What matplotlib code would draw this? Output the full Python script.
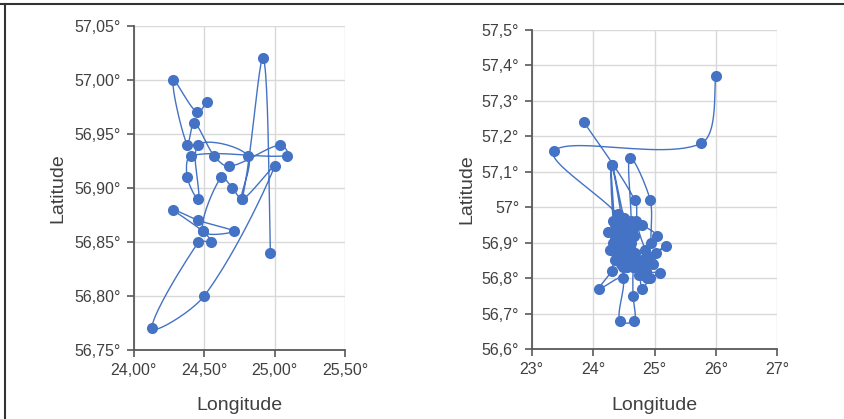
import matplotlib
matplotlib.use("Agg")
import matplotlib.pyplot as plt
import numpy as np
from matplotlib.lines import Line2D
from matplotlib.ticker import FuncFormatter

# route 1: visited points in order (longitude, latitude)
route1_lon = [24.52, 24.45, 24.28, 24.38, 24.43, 24.57, 24.68, 25.04, 25.09, 24.41,
              24.38, 24.46, 24.46, 24.81, 24.77, 25.00, 24.50, 24.13, 24.46, 24.55,
              24.49, 24.28, 24.46, 24.71, 24.49, 24.62, 24.70, 24.77, 24.92, 24.97]
route1_lat = [56.98, 56.97, 57.00, 56.94, 56.96, 56.93, 56.92, 56.94, 56.93, 56.93,
              56.91, 56.89, 56.94, 56.93, 56.89, 56.92, 56.80, 56.77, 56.85, 56.85,
              56.86, 56.88, 56.87, 56.86, 56.86, 56.91, 56.90, 56.89, 57.02, 56.84]

# route 2
route2_lon = [26.00, 25.76, 23.37, 24.40, 24.48, 24.30, 24.33, 24.42, 24.25, 24.35,
              24.30, 24.50, 24.56, 24.45, 24.28, 24.38, 24.50, 24.60, 24.62, 24.60,
              24.93, 24.95, 25.04, 24.80, 24.70, 24.66, 24.55, 24.45, 24.40, 24.52,
              24.35, 24.45, 24.55, 24.65, 24.58, 24.48, 24.38, 24.32, 24.42, 24.52,
              24.62, 24.40, 24.48, 24.58, 24.68, 24.75, 24.82, 24.88, 24.72, 24.62,
              24.68, 24.80, 25.02, 25.19, 24.92, 24.86, 25.09, 24.93, 24.80, 24.75,
              24.65, 24.55, 24.45, 24.35, 24.30, 24.10, 24.48, 24.43, 24.67, 24.65,
              24.66, 24.72, 24.88, 24.97, 24.85, 24.72, 24.68, 23.85]
route2_lat = [57.37, 57.18, 57.16, 56.98, 56.95, 57.12, 56.96, 56.93, 56.93, 56.91,
              57.12, 56.97, 56.93, 56.90, 56.88, 56.87, 56.88, 56.90, 56.96, 57.14,
              57.02, 56.90, 56.92, 56.95, 56.96, 56.92, 56.86, 56.85, 56.89, 56.91,
              56.95, 56.96, 56.95, 56.94, 56.92, 56.92, 56.93, 56.90, 56.88, 56.86,
              56.88, 56.86, 56.83, 56.84, 56.85, 56.83, 56.81, 56.80, 56.85, 56.90,
              56.87, 56.85, 56.87, 56.89, 56.86, 56.82, 56.815, 56.80, 56.77, 56.81,
              56.83, 56.83, 56.84, 56.85, 56.82, 56.77, 56.80, 56.68, 56.68, 56.75,
              56.83, 56.84, 56.84, 56.84, 56.88, 56.95, 57.02, 57.24]

x1_ticks = [24.0, 24.5, 25.0, 25.5]
y1_ticks = [56.75, 56.80, 56.85, 56.90, 56.95, 57.00, 57.05]
x2_ticks = [23, 24, 25, 26, 27]
y2_ticks = [56.6, 56.7, 56.8, 56.9, 57.0, 57.1, 57.2, 57.3, 57.4, 57.5]

BLUE = "#4472C4"
TEXT = "#404040"
AXIS = "#595959"
GRID = "#d9d9d9"

plt.rcParams["font.family"] = ["Liberation Sans", "DejaVu Sans"]


def smooth_path(ax, xs, ys, steps=24):
    """Smoothed line through the points (Bezier segments, screen space).

    Control arms are scaled by the relative segment lengths so short
    hops next to long ones do not overshoot.
    """
    pts = ax.transData.transform(np.column_stack([xs, ys]))
    n = len(pts)
    out = [pts[0]]
    t = np.linspace(0, 1, steps)[1:, None]
    for i in range(n - 1):
        p0 = pts[max(i - 1, 0)]
        p1 = pts[i]
        p2 = pts[i + 1]
        p3 = pts[min(i + 2, n - 1)]
        d01 = np.hypot(*(p1 - p0))
        d12 = np.hypot(*(p2 - p1))
        d23 = np.hypot(*(p3 - p2))
        k1 = d12 / (d01 + d12) / 3 if d01 > 0 else 1 / 6
        k2 = d12 / (d12 + d23) / 3 if d23 > 0 else 1 / 6
        c1 = p1 + (p2 - p0) * k1
        c2 = p2 - (p3 - p1) * k2
        seg = ((1 - t) ** 3) * p1 + 3 * ((1 - t) ** 2) * t * c1 \
            + 3 * (1 - t) * t ** 2 * c2 + t ** 3 * p2
        out.extend(seg)
    data = ax.transData.inverted().transform(np.array(out))
    return data[:, 0], data[:, 1]


def style_axes(ax, xticks, yticks, xfmt, yfmt):
    ax.set_xlim(xticks[0], xticks[-1])
    ax.set_ylim(yticks[0], yticks[-1])
    ax.set_xticks(xticks)
    ax.set_yticks(yticks)
    ax.xaxis.set_major_formatter(FuncFormatter(xfmt))
    ax.yaxis.set_major_formatter(FuncFormatter(yfmt))
    ax.grid(True, color=GRID, linewidth=1.0, zorder=0)
    ax.set_axisbelow(True)
    for side in ("top", "right"):
        ax.spines[side].set_visible(False)
    for side in ("left", "bottom"):
        ax.spines[side].set_color(AXIS)
        ax.spines[side].set_linewidth(1.3)
    ax.tick_params(direction="out", length=5, width=1.2, color=AXIS,
                   labelsize=11.5, labelcolor=TEXT, pad=4)
    ax.set_xlabel("Longitude", fontsize=14, color=TEXT)
    ax.set_ylabel("Latitude", fontsize=14, color=TEXT)
    ax.xaxis.label.set_va("center")
    ax.yaxis.label.set_va("center")


def deg2(v, _):
    return f"{v:.2f}°".replace(".", ",")


def deg1(v, _):
    s = f"{v:.1f}".replace(".", ",")
    if s.endswith(",0"):
        s = s[:-2]
    return s + "°"


def deg0(v, _):
    return f"{v:.0f}°"


fig = plt.figure(figsize=(8.44, 4.19), dpi=100)

ax1 = fig.add_axes([133.7 / 844, 1 - 350 / 419, 211.3 / 844, 324 / 419])
style_axes(ax1, x1_ticks, y1_ticks, deg2, deg2)
ax1.xaxis.set_label_coords(0.5, -0.17)
ax1.yaxis.set_label_coords(-0.358, 0.5)

ax2 = fig.add_axes([531.7 / 844, 1 - 349 / 419, 245.6 / 844, 319 / 419])
style_axes(ax2, x2_ticks, y2_ticks, deg0, deg1)
ax2.xaxis.set_label_coords(0.5, -0.176)
ax2.yaxis.set_label_coords(-0.265, 0.5)

for ax, lon, lat in ((ax1, route1_lon, route1_lat), (ax2, route2_lon, route2_lat)):
    sx, sy = smooth_path(ax, lon, lat)
    ax.plot(sx, sy, color=BLUE, linewidth=1.0, zorder=2, clip_on=False)
    ax.plot(lon, lat, linestyle="none", marker="o", markersize=8,
            color=BLUE, markeredgewidth=0, zorder=3, clip_on=False)

# frame lines along the top and left edge
fig.add_artist(Line2D([0, 1], [1 - 4 / 419, 1 - 4 / 419], color="#333333",
                      linewidth=1.5, transform=fig.transFigure))
fig.add_artist(Line2D([5 / 844, 5 / 844], [0, 1 - 4 / 419], color="#333333",
                      linewidth=1.5, transform=fig.transFigure))

fig.savefig("out.png", dpi=100, facecolor="white")
